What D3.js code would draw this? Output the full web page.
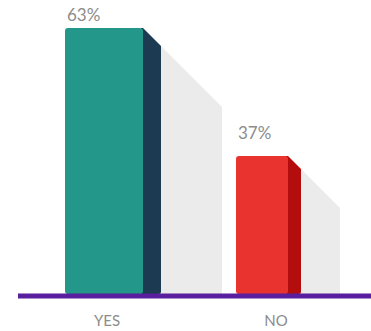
<!DOCTYPE html>
<html>
<head>
<meta charset="utf-8">
<script src="https://cdn.jsdelivr.net/npm/d3@7"></script>
<style>
  html, body { margin: 0; padding: 0; background: #fff; }
  svg { display: block; }
  text { font-family: Lato, "Open Sans", sans-serif; fill: #8c8c8c; }
</style>
</head>
<body>
<svg id="chart" width="371" height="331"></svg>
<script>
// Survey answers and their shares (percent)
const categories = ["YES", "NO"];
const values = [63, 37];
const valueLabels = ["63%", "37%"];

// Per-bar look: front face colour, side colour, and geometry
const frontColors = ["#22978a", "#e8332e"];
const sideColors = ["#1c3a52", "#b30d0d"];
const shapes = [
  { left: -42, width: 78, depth: 18, shadow: 61, labelGap: 7 },
  { left: -40, width: 52, depth: 13, shadow: 39, labelGap: 17 }
];

const svg = d3.select("#chart");
const baseY = 294;

const x = d3.scaleBand().domain(categories).range([22.5, 360.5]).padding(0);
const y = d3.scaleLinear().domain([9, 63]).range([baseY, 28]);

const g = svg.append("g");

categories.forEach((cat, i) => {
  const s = shapes[i];
  const cx = x(cat) + x.bandwidth() / 2;
  const x0 = cx + s.left;
  const x1 = x0 + s.width;
  const x2 = x1 + s.depth;
  const top = y(values[i]);

  // light shadow cast to the right
  g.append("path")
    .attr("d", `M${x2},${top + s.depth} L${x2 + s.shadow},${top + s.depth + s.shadow} L${x2 + s.shadow},${baseY} L${x2},${baseY} Z`)
    .attr("fill", "#ebebeb");

  // side face with a 45° bevel at the top
  g.append("path")
    .attr("d", `M${x1 - 2},${top} L${x1},${top} L${x2},${top + s.depth} L${x2},${baseY - 2} Q${x2},${baseY} ${x2 - 2},${baseY} L${x1 - 2},${baseY} Z`)
    .attr("fill", sideColors[i]);

  // front face
  g.append("rect")
    .attr("x", x0).attr("y", top)
    .attr("width", s.width).attr("height", baseY - top)
    .attr("rx", 3).attr("ry", 3)
    .attr("fill", frontColors[i]);

  // value label
  g.append("text")
    .attr("x", x0 + 2)
    .attr("y", top - s.labelGap)
    .attr("font-size", 17)
    .text(valueLabels[i]);
});

// baseline
svg.append("line")
  .attr("x1", 18).attr("x2", 371)
  .attr("y1", baseY + 2).attr("y2", baseY + 2)
  .attr("stroke", "#5a1f9e").attr("stroke-width", 5);

// category axis
const axis = svg.append("g")
  .attr("transform", `translate(0,${baseY + 5})`)
  .call(d3.axisBottom(x).tickSize(0).tickPadding(16));
axis.select(".domain").remove();
axis.selectAll("text")
  .attr("font-size", 15)
  .style("font-family", "Lato, 'Open Sans', sans-serif")
  .attr("fill", "#8c8c8c");
</script>
</body>
</html>
